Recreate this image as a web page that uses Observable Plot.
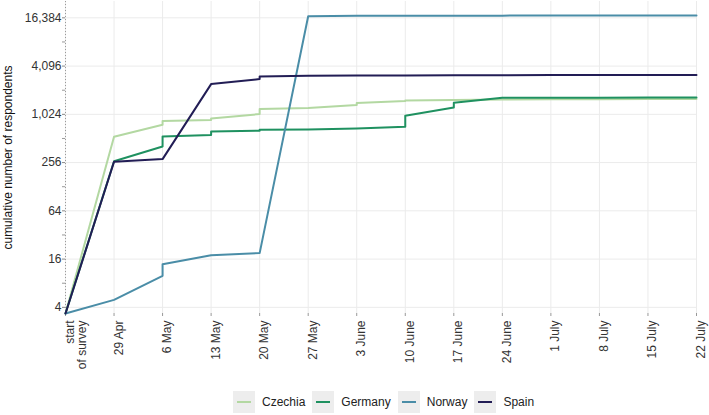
<!DOCTYPE html>
<html>
<head>
<meta charset="utf-8">
<script src="https://cdn.jsdelivr.net/npm/d3@7"></script>
<script src="https://cdn.jsdelivr.net/npm/@observablehq/plot@0.6"></script>
<style>
  body { margin: 0; background: #fff; font-family: "Liberation Sans", Arial, sans-serif; }
  #chart svg { display: block; }
  .legend { display: flex; align-items: center; padding-left: 233px; margin-top: 21px; height: 22px; font-size: 12px; color: #222; }
  .legend .item { display: flex; align-items: center; margin-right: 7px; }
  .legend .key { width: 22px; height: 22px; background: #ededed; position: relative; margin-right: 7px; }
  .legend .key span { position: absolute; left: 4px; right: 4px; top: 10px; height: 2px; }
</style>
</head>
<body>
<div id="chart"></div>
<script>
// x categories (weekly positions)
const weekLabels = ["start\nof survey", "29 Apr", "6 May", "13 May", "20 May", "27 May", "3 June",
  "10 June", "17 June", "24 June", "1 July", "8 July", "15 July", "22 July"];
const weekIndex = weekLabels.map((d, i) => i);

// y tick labels
const yMajorTicks = [4, 16, 64, 256, 1024, 4096, 16384];
const yMinorTicks = [8, 32, 128, 512, 2048, 8192];

const countries = ["Czechia", "Germany", "Norway", "Spain"];
const colors = ["#b3d8a2", "#1f9160", "#4a8da7", "#221d55"];

// series (repeated week = step at that date)
const czechiaWeek  = [0, 1, 2, 2, 3, 3, 4, 4, 5, 6, 6, 7, 7, 8, 9, 10, 11, 12, 13];
const czechiaCount = [3.35, 537, 758, 843, 868, 909, 1032, 1190, 1226, 1335, 1414, 1498, 1525, 1542, 1572, 1580, 1584, 1587, 1590];

const germanyWeek  = [0, 1, 2, 2, 3, 3, 4, 4, 5, 6, 7, 7, 8, 8, 9, 10, 11, 12, 13];
const germanyCount = [3.35, 266, 406, 542, 564, 626, 640, 657, 662, 682, 716, 982, 1246, 1427, 1647, 1650, 1655, 1658, 1660];

const norwayWeek  = [0, 1, 2, 2, 3, 4, 5, 6, 7, 8, 9, 10, 11, 12, 13];
const norwayCount = [3.35, 4.96, 9.9, 13.8, 17.9, 19.0, 17150, 17400, 17420, 17440, 17460, 17470, 17480, 17490, 17500];

const spainWeek  = [0, 1, 2, 3, 4, 4, 5, 6, 7, 8, 9, 10, 11, 12, 13];
const spainCount = [3.35, 262, 283, 2442, 2820, 3037, 3100, 3120, 3130, 3140, 3150, 3160, 3165, 3170, 3180];

const series = [
  ["Czechia", czechiaWeek, czechiaCount],
  ["Germany", germanyWeek, germanyCount],
  ["Norway", norwayWeek, norwayCount],
  ["Spain", spainWeek, spainCount]
];
const rows = series.flatMap(([c, w, v]) => w.map((wk, i) => ({country: c, week: wk, count: v[i]})));

const font = '"Liberation Sans", Arial, sans-serif';

const chart = Plot.plot({
  width: 709,
  height: 370,
  marginLeft: 65,
  marginRight: 13,
  marginTop: 1,
  marginBottom: 57,
  style: {fontFamily: font, fontSize: "12px", background: "#fff", color: "#333"},
  x: {domain: [0, 13], axis: null},
  y: {type: "log", base: 2, domain: [3.35, 26200], axis: null},
  color: {domain: countries, range: colors},
  marks: [
    Plot.gridX(weekIndex, {stroke: "#ebebeb", strokeOpacity: 1}),
    Plot.gridY(yMajorTicks, {stroke: "#ebebeb", strokeOpacity: 1}),
    Plot.ruleX([0], {stroke: "#9a9a9a", strokeDasharray: "1,2"}),
    Plot.axisY(yMajorTicks, {tickSize: 3, tickPadding: 1, tickFormat: d3.format(","), stroke: "#888", fill: "#333", fontSize: 12, label: null}),
    Plot.axisY(yMinorTicks, {tickSize: 3, tickFormat: () => "", stroke: "#999", label: null}),
    Plot.axisX(weekIndex, {tickSize: 3, tickFormat: () => "", stroke: "#999", label: null}),
    Plot.text(weekIndex, {x: d => d, text: d => weekLabels[d], frameAnchor: "bottom", rotate: -90,
      textAnchor: "end", lineAnchor: "top", dy: 7, fontSize: 12, fill: "#333"}),
    Plot.text(["cumulative number of respondents"], {frameAnchor: "left", rotate: -90, textAnchor: "middle",
      dx: -57, fontSize: 12, fill: "#111"}),
    Plot.line(rows, {x: "week", y: "count", stroke: "country", z: "country", strokeWidth: 2})
  ]
});
document.getElementById("chart").appendChild(chart);

const legend = document.createElement("div");
legend.className = "legend";
countries.forEach((c, i) => {
  const item = document.createElement("div");
  item.className = "item";
  const key = document.createElement("div");
  key.className = "key";
  const ln = document.createElement("span");
  ln.style.background = colors[i];
  key.appendChild(ln);
  const lab = document.createElement("span");
  lab.textContent = c;
  item.appendChild(key);
  item.appendChild(lab);
  legend.appendChild(item);
});
document.body.appendChild(legend);
</script>
</body>
</html>
